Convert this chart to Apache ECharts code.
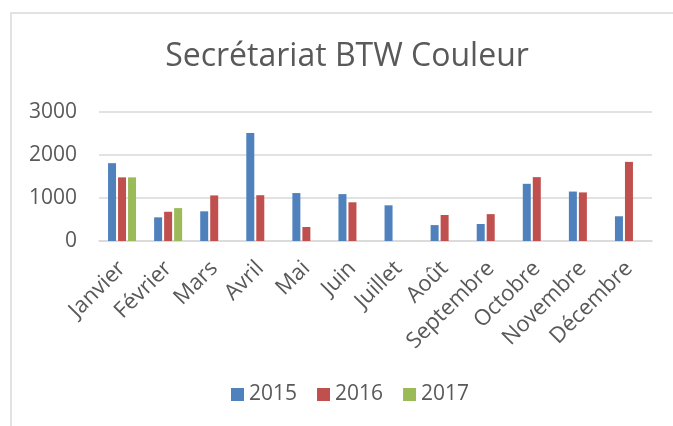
<!DOCTYPE html>
<html>
<head>
<meta charset="utf-8">
<script src="https://cdn.jsdelivr.net/npm/echarts@6/dist/echarts.min.js"></script>
<style>
html,body{margin:0;padding:0;background:#fff;}
#chart{width:673px;height:426px;}
</style>
</head>
<body>
<div id="chart"></div>
<script>
const categories = ['Janvier','Février','Mars','Avril','Mai','Juin','Juillet','Août','Septembre','Octobre','Novembre','Décembre'];
const years = ['2015','2016','2017'];
const values2015 = [1810, 550, 690, 2510, 1115, 1090, 830, 370, 395, 1330, 1150, 575];
const values2016 = [1480, 680, 1060, 1065, 325, 900, null, 605, 625, 1485, 1130, 1840];
const values2017 = [1480, 765, null, null, null, null, null, null, null, null, null, null];
const yTicks = [0, 1000, 2000, 3000];
const colors = ['#4F81BD', '#C0504D', '#9BBB59'];

const FONT = '"Open Sans", sans-serif';
const TXT = '#595959';

const chart = echarts.init(document.getElementById('chart'), null, {renderer: 'canvas'});
const seriesData = [values2015, values2016, values2017];
chart.setOption({
  animation: false,
  title: {
    text: 'Secrétariat BTW Couleur',
    left: 342, top: 36, textAlign: 'center',
    textStyle: {fontFamily: FONT, fontSize: 32, fontWeight: 'normal', color: TXT}
  },
  graphic: [{
    type: 'rect', silent: true,
    shape: {x: 11, y: 13, width: 700, height: 450},
    style: {fill: 'none', stroke: '#D9D9D9', lineWidth: 1.5}
  }],
  legend: {
    data: years,
    top: 384, left: 231, padding: 0,
    icon: 'rect', itemWidth: 13, itemHeight: 13, itemGap: 20,
    textStyle: {fontFamily: FONT, fontSize: 21, color: TXT}
  },
  grid: {left: 99, right: 21, top: 112, bottom: 185},
  xAxis: {
    type: 'category', data: categories,
    axisTick: {show: false},
    axisLine: {lineStyle: {color: '#D9D9D9', width: 1.5}},
    axisLabel: {rotate: 45, interval: 0, margin: 24, fontFamily: FONT, fontSize: 22, color: TXT}
  },
  yAxis: {
    type: 'value', min: yTicks[0], max: yTicks[yTicks.length-1], interval: 1000,
    axisLine: {show: false}, axisTick: {show: false},
    splitLine: {lineStyle: {color: '#D9D9D9', width: 1.5}},
    axisLabel: {margin: 22, fontFamily: FONT, fontSize: 21, color: TXT, formatter: v => String(v)}
  },
  series: years.map((y, i) => ({
    name: y, type: 'bar', data: seriesData[i],
    barWidth: 8, barGap: '25%',
    itemStyle: {color: colors[i]}
  }))
});
</script>
</body>
</html>
